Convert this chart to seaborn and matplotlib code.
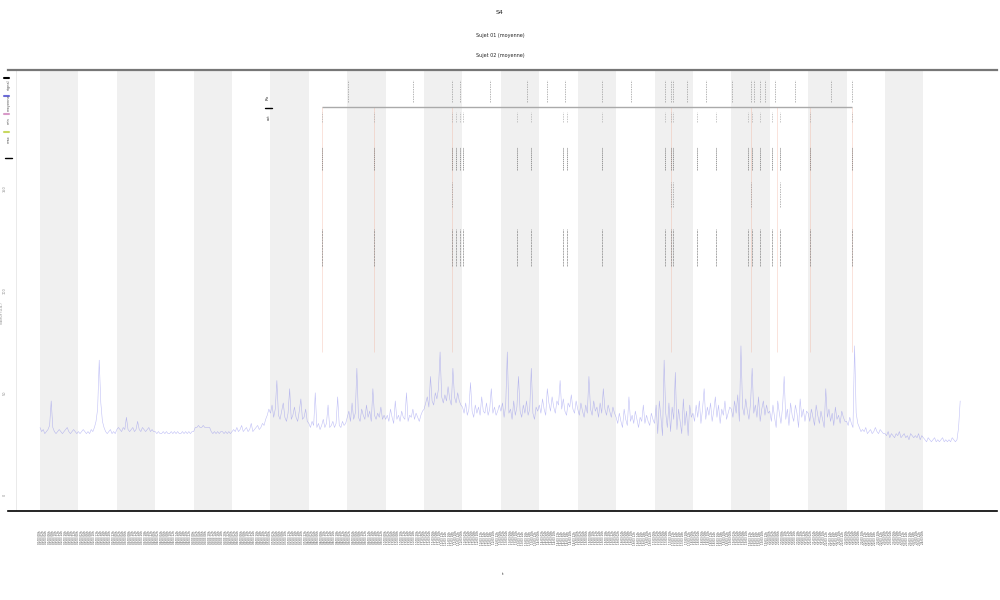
import pandas as pd
import seaborn as sns
import matplotlib.pyplot as plt
from matplotlib.lines import Line2D

# valeurs horaires du signal, une ligne par jour
jour00 = [33,31,32,30,31,32,34,46,33,31,30,31,32,31,30,31,32,33,31,30,31,32,31,30]
jour01 = [31,30,31,32,31,30,31,30,32,31,33,36,42,66,45,36,33,31,30,31,32,30,31,30]
jour02 = [32,33,32,31,33,32,38,32,31,32,33,31,32,36,32,31,33,32,31,32,33,31,32,31]
jour03 = [31,30,31,30,30,31,30,31,30,30,31,30,31,30,31,30,30,31,30,31,30,31,30,31]
jour04 = [31,33,33,34,33,33,34,33,33,33,33,31,30,31,30,31,30,31,31,30,31,30,31,30]
jour05 = [31,32,31,33,31,32,34,31,32,33,31,32,35,31,32,33,34,32,33,35,34,37,39,42]
jour06 = [40,44,38,42,56,39,37,41,45,38,36,40,52,37,39,43,38,36,41,47,37,38,42,36]
jour07 = [35,33,36,34,50,33,35,32,34,37,33,35,44,33,34,36,33,35,48,34,33,36,34,35]
jour08 = [38,41,36,45,37,40,62,38,36,42,39,37,44,38,41,36,52,39,37,40,38,43,37,39]
jour09 = [37,39,36,42,38,35,46,37,39,36,41,38,37,50,36,39,38,42,37,40,38,36,39,41]
jour10 = [42,45,48,43,58,46,44,50,47,52,70,48,45,49,46,53,47,44,62,48,45,50,46,44]
jour11 = [43,40,45,39,42,55,41,38,44,40,43,39,48,41,40,45,39,42,52,40,43,39,41,44]
jour12 = [41,45,38,44,70,40,42,37,46,39,43,58,41,38,44,40,46,39,42,62,40,37,43,41]
jour13 = [44,40,47,42,39,52,45,41,48,43,40,46,44,56,42,47,41,39,45,43,49,42,40,46]
jour14 = [42,39,45,41,38,44,40,58,42,39,46,41,43,38,45,40,52,42,39,44,41,38,43,40]
jour15 = [38,35,40,36,33,42,37,34,48,36,39,35,41,37,33,38,36,44,35,39,36,34,40,37]
jour16 = [35,44,30,46,38,29,66,40,33,45,31,43,37,60,32,42,36,30,47,34,41,29,44,38]
jour17 = [40,36,44,38,46,35,42,52,37,43,39,45,36,41,48,38,44,35,42,39,46,37,40,43]
jour18 = [42,38,46,40,49,36,73,43,39,47,41,37,45,62,40,44,38,48,36,42,46,39,44,40]
jour19 = [41,36,44,38,33,46,40,35,43,58,37,42,34,45,39,36,44,40,33,47,38,42,36,41]
jour20 = [40,36,42,38,34,44,39,35,41,37,33,52,38,42,36,40,34,43,37,39,35,41,38,36]
jour21 = [36,34,38,35,33,73,40,35,33,31,32,31,33,30,31,32,30,31,33,31,30,32,31,30]
jour22 = [30,29,31,28,30,29,28,30,29,31,28,29,30,28,29,27,30,29,28,29,28,30,27,29]
jour23 = [28,27,26,28,27,26,27,28,26,27,26,27,28,26,27,26,27,26,28,27,26,27,33,46]

jours = [jour00, jour01, jour02, jour03, jour04, jour05, jour06, jour07,
         jour08, jour09, jour10, jour11, jour12, jour13, jour14, jour15,
         jour16, jour17, jour18, jour19, jour20, jour21, jour22, jour23]

# evenements (heures depuis le debut)
evenements = [176, 209, 257.5, 260, 262.5, 264.5, 298, 307, 327, 329, 351,
              390.5, 394, 395.5, 410.5, 422.5, 442.5, 445, 450, 457.5, 462.5,
              481, 507.5]
evenements_haut = [192.5, 233, 257.5, 262.5, 281, 304, 317, 328, 351, 369,
                   390.5, 394, 395.5, 404, 416, 432.5, 444, 446, 450, 453,
                   459, 472, 494, 507.5]
evenements_milieu = [257.5, 394, 395.5, 444, 462.5]
evenements_rouges = [176, 209, 257.5, 394, 444, 460.5, 481, 507.5]

titre = ["S4", "Sujet 01 (moyenne)", "Sujet 02 (moyenne)"]
legende = ["signal", "moyenne", "min", "max"]
couleurs_legende = ["black", "#6b6bd8", "#d89ac8", "#c8d860"]

valeurs = [v for j in jours for v in j]
heures = list(range(len(valeurs)))
df = pd.DataFrame({"heure": heures, "valeur": valeurs})

sns.set_theme(style="white")
plt.rcParams["font.family"] = ["DejaVu Sans"]

fig, ax = plt.subplots(figsize=(10, 6), dpi=100)
fig.subplots_adjust(left=0.008, right=0.997, top=0.883, bottom=0.148)

# bandes grises un jour sur deux
for d in range(0, 24, 2):
    ax.axvspan(d * 24, d * 24 + 24, color="#f0f0f0", lw=0, zorder=0)

sns.lineplot(data=df, x="heure", y="valeur", ax=ax, color="#6060e8",
             lw=0.4, alpha=0.4, zorder=3)

# lignes rouges pâles
ax.vlines(evenements_rouges, 70, 190, color="#f0a890", lw=0.5, alpha=0.45, zorder=2)

# rangees de marqueurs
ax.vlines(evenements_haut, 192.5, 203, color="#999999", lw=0.5,
          linestyles=(0, (2, 1.5)), zorder=2)
ax.hlines(190, evenements[0], evenements[-1], color="#aaaaaa", lw=1, zorder=2)
ax.vlines(evenements, 182.5, 187.5, color="#b0b0b0", lw=0.5,
          linestyles=(0, (2, 1.5)), zorder=2)
ax.vlines(evenements, 159, 170.5, color="#777777", lw=0.5,
          linestyles=(0, (2, 1)), zorder=2)
ax.vlines(evenements_milieu, 141, 153, color="#999999", lw=0.5,
          linestyles=(0, (2, 1.5)), zorder=2)
ax.vlines(evenements, 112, 130, color="#888888", lw=0.5,
          linestyles=(0, (3, 1)), zorder=2)

ax.set_xlim(-20, 598)
ax.set_ylim(-8, 208)

tick_pos = list(range(0, 553, 2))
tick_lab = pd.date_range("2021-03-01", periods=len(tick_pos), freq="2h").strftime("%d/%m %Hh")
ax.set_xticks(tick_pos)
ax.set_xticklabels(tick_lab, rotation=90, fontsize=2, color="#444444")
ax.tick_params(axis="x", length=0, pad=14)
ax.set_yticks([0, 50, 100, 150])
ax.set_yticklabels(["0", "50", "100", "150"], rotation=90, fontsize=2.5,
                   color="#888888", va="center")
ax.tick_params(axis="y", length=0, pad=1)
ax.set_xlabel("t", fontsize=3, labelpad=20)
ax.set_ylabel("valeur (u.a.)", fontsize=2.5, color="#888888")
ax.yaxis.set_label_coords(-0.004, 0.45)

for s in ["left", "right"]:
    ax.spines[s].set_visible(False)
ax.spines["top"].set_color("#777777")
ax.spines["top"].set_linewidth(1.6)
ax.spines["bottom"].set_color("black")
ax.spines["bottom"].set_linewidth(1.2)
ax.axvline(-15, color="#e6e6e6", lw=0.6, zorder=1)

# titre sur trois lignes
fig.text(0.5, 1 - 12 / 600, titre[0], ha="center", va="center", fontsize=4.5)
fig.text(0.5, 1 - 35 / 600, titre[1], ha="center", va="center", fontsize=3.5)
fig.text(0.5, 1 - 55 / 600, titre[2], ha="center", va="center", fontsize=3.5)

# legende verticale a gauche
for i, (lab, c) in enumerate(zip(legende, couleurs_legende)):
    y = 1 - (85 + 18 * i) / 600
    fig.add_artist(Line2D([0.004, 0.009], [y + 0.012, y + 0.012],
                          color=c, lw=1.5, transform=fig.transFigure))
    fig.text(0.0085, y, lab, rotation=90, fontsize=2.5, ha="center",
             va="center", color="#555555")
fig.add_artist(Line2D([0.005, 0.012], [1 - 158 / 600, 1 - 158 / 600],
                      color="black", lw=1, transform=fig.transFigure))

# legende des evenements
fig.text(0.268, 1 - 97 / 600, "Rx", rotation=90, fontsize=3, ha="center", va="center")
fig.add_artist(Line2D([0.265, 0.272], [1 - 108 / 600, 1 - 108 / 600],
                      color="black", lw=1, transform=fig.transFigure))
fig.text(0.269, 1 - 117 / 600, "evt", rotation=90, fontsize=2.5, ha="center", va="center")

fig.savefig("out.png", dpi=100)
